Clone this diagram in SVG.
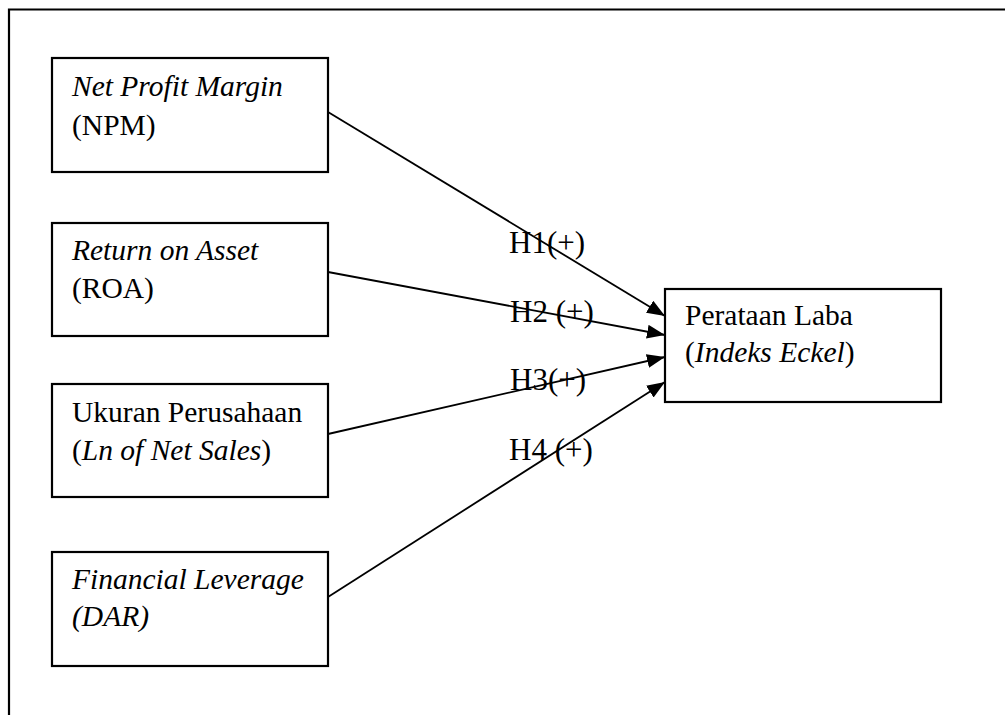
<svg xmlns="http://www.w3.org/2000/svg" width="1005" height="715" viewBox="0 0 1005 715">
<style>
.box{fill:#fff;stroke:#000;stroke-width:2.2}
.t{font-family:"Liberation Serif","Times New Roman",serif;font-size:29.5px;fill:#000}
.i{font-style:italic}
.h{font-family:"Liberation Serif","Times New Roman",serif;font-size:31px;fill:#000}
.c{stroke:#000;stroke-width:1.8;fill:none;marker-end:url(#ah)}
</style>
<defs>
<marker id="ah" markerUnits="userSpaceOnUse" markerWidth="19" markerHeight="15" refX="18" refY="7" orient="auto">
<path d="M0,0 L18,7 L0,14 z" fill="#000"/>
</marker>
</defs>
<rect width="1005" height="715" fill="#fff"/>
<path d="M9,715 L9,9.5 L1005,9.5" fill="none" stroke="#000" stroke-width="2.2"/>
<g id="npm">
<rect class="box" x="52" y="58" width="276" height="114"/>
<text class="t i" x="72" y="96">Net Profit Margin</text>
<text class="t" x="72" y="135">(NPM)</text>
</g>
<g id="roa">
<rect class="box" x="52" y="223" width="276" height="113"/>
<text class="t i" x="72" y="260">Return on Asset</text>
<text class="t" x="72" y="298">(ROA)</text>
</g>
<g id="size">
<rect class="box" x="52" y="384" width="276" height="113"/>
<text class="t" x="72" y="422">Ukuran Perusahaan</text>
<text class="t" x="72" y="460">(<tspan class="i">Ln of Net Sales</tspan>)</text>
</g>
<g id="dar">
<rect class="box" x="52" y="552" width="276" height="114"/>
<text class="t i" x="72" y="589">Financial Leverage</text>
<text class="t i" x="72" y="626">(DAR)</text>
</g>
<g id="laba">
<rect class="box" x="665" y="289" width="276" height="113"/>
<text class="t" x="685" y="325">Perataan Laba</text>
<text class="t" x="685" y="362">(<tspan class="i">Indeks Eckel</tspan>)</text>
</g>
<g id="connectors">
<line class="c" x1="328" y1="112" x2="665" y2="316"/>
<line class="c" x1="328" y1="272" x2="665" y2="335"/>
<line class="c" x1="328" y1="434" x2="665" y2="357"/>
<line class="c" x1="328" y1="597" x2="665" y2="382"/>
<text class="h" x="509" y="253">H1(+)</text>
<text class="h" x="510" y="322">H2 (+)</text>
<text class="h" x="510" y="390">H3(+)</text>
<text class="h" x="509" y="460">H4 (+)</text>
</g>
</svg>
